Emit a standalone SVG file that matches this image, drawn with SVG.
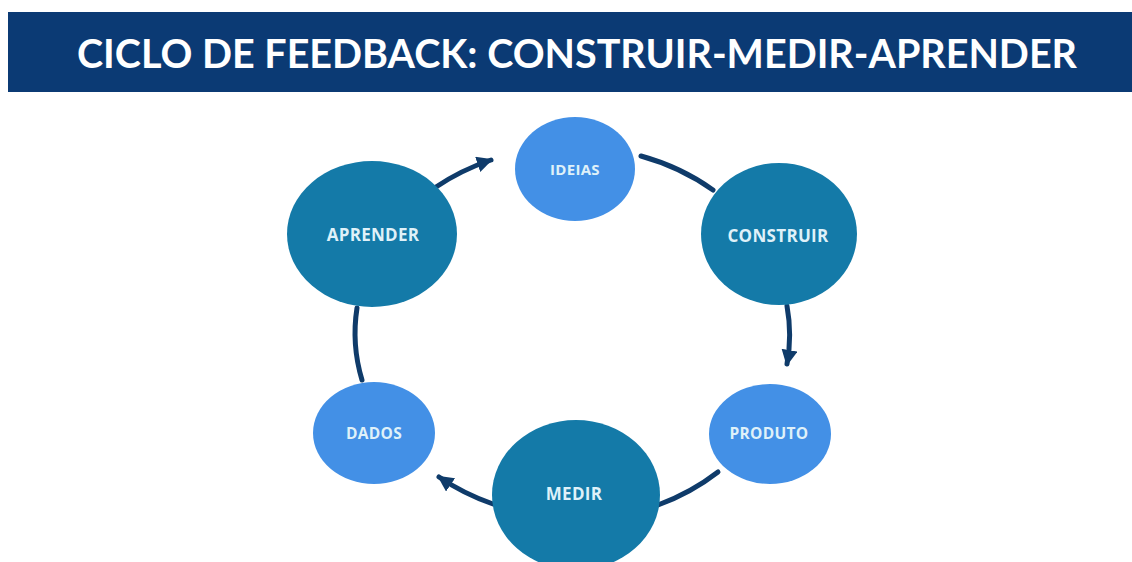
<svg xmlns="http://www.w3.org/2000/svg" width="1132" height="562" viewBox="0 0 1132 562">
  <style>
    .bar { fill: #0b3a74; }
    .title { fill: #ffffff; font-family: "Lato", "Liberation Sans", sans-serif; font-weight: 700; font-size: 40px; }
    .stage { fill: #147aa8; }
    .item { fill: #4390e6; }
    .label { fill: #dff1f9; font-family: "Open Sans", "Liberation Sans", sans-serif; font-weight: 700; text-anchor: middle; dominant-baseline: central; letter-spacing: 0.3px; }
    .link { fill: none; stroke: #0f3b6a; stroke-width: 5; stroke-linecap: round; }
  </style>
  <defs>
    <marker id="arrow" markerUnits="userSpaceOnUse" markerWidth="18" markerHeight="18" refX="14" refY="8" orient="auto">
      <path d="M0,0 L16,8 L0,16 Z" fill="#0f3b6a"/>
    </marker>
  </defs>

  <rect width="1132" height="562" fill="#ffffff"/>

  <!-- header band -->
  <g id="header">
    <rect class="bar" x="8" y="12" width="1124" height="80"/>
    <text class="title" x="77" y="68" textLength="1000" lengthAdjust="spacingAndGlyphs">CICLO DE FEEDBACK: CONSTRUIR-MEDIR-APRENDER</text>
  </g>

  <!-- cycle connectors: arcs of one ellipse around the loop -->
  <g id="connectors">
    <path class="link" d="M436,187 A217,187 0 0 1 491,160" marker-end="url(#arrow)"/>
    <path class="link" d="M641,156 A217,187 0 0 1 713,190"/>
    <path class="link" d="M787,306 A217,187 0 0 1 787,364" marker-end="url(#arrow)"/>
    <path class="link" d="M718,472 A217,187 0 0 1 658,505"/>
    <path class="link" d="M493,504 A217,187 0 0 1 439,477" marker-end="url(#arrow)"/>
    <path class="link" d="M362,380 A217,187 0 0 1 357,308"/>
  </g>

  <g id="ideias">
    <ellipse class="item" cx="575" cy="169" rx="60" ry="52"/>
    <text class="label" x="575" y="169" font-size="15">IDEIAS</text>
  </g>
  <g id="construir">
    <ellipse class="stage" cx="779" cy="234" rx="78" ry="71"/>
    <text class="label" x="778" y="235" font-size="17">CONSTRUIR</text>
  </g>
  <g id="produto">
    <ellipse class="item" cx="770" cy="434" rx="61" ry="50"/>
    <text class="label" x="769" y="433" font-size="15.5">PRODUTO</text>
  </g>
  <g id="medir">
    <ellipse class="stage" cx="576" cy="495" rx="84" ry="75"/>
    <text class="label" x="574" y="493" font-size="17">MEDIR</text>
  </g>
  <g id="dados">
    <ellipse class="item" cx="374" cy="433" rx="61" ry="51"/>
    <text class="label" x="374" y="433" font-size="15.5">DADOS</text>
  </g>
  <g id="aprender">
    <ellipse class="stage" cx="372" cy="234" rx="85" ry="73"/>
    <text class="label" x="373" y="234" font-size="17">APRENDER</text>
  </g>
</svg>
